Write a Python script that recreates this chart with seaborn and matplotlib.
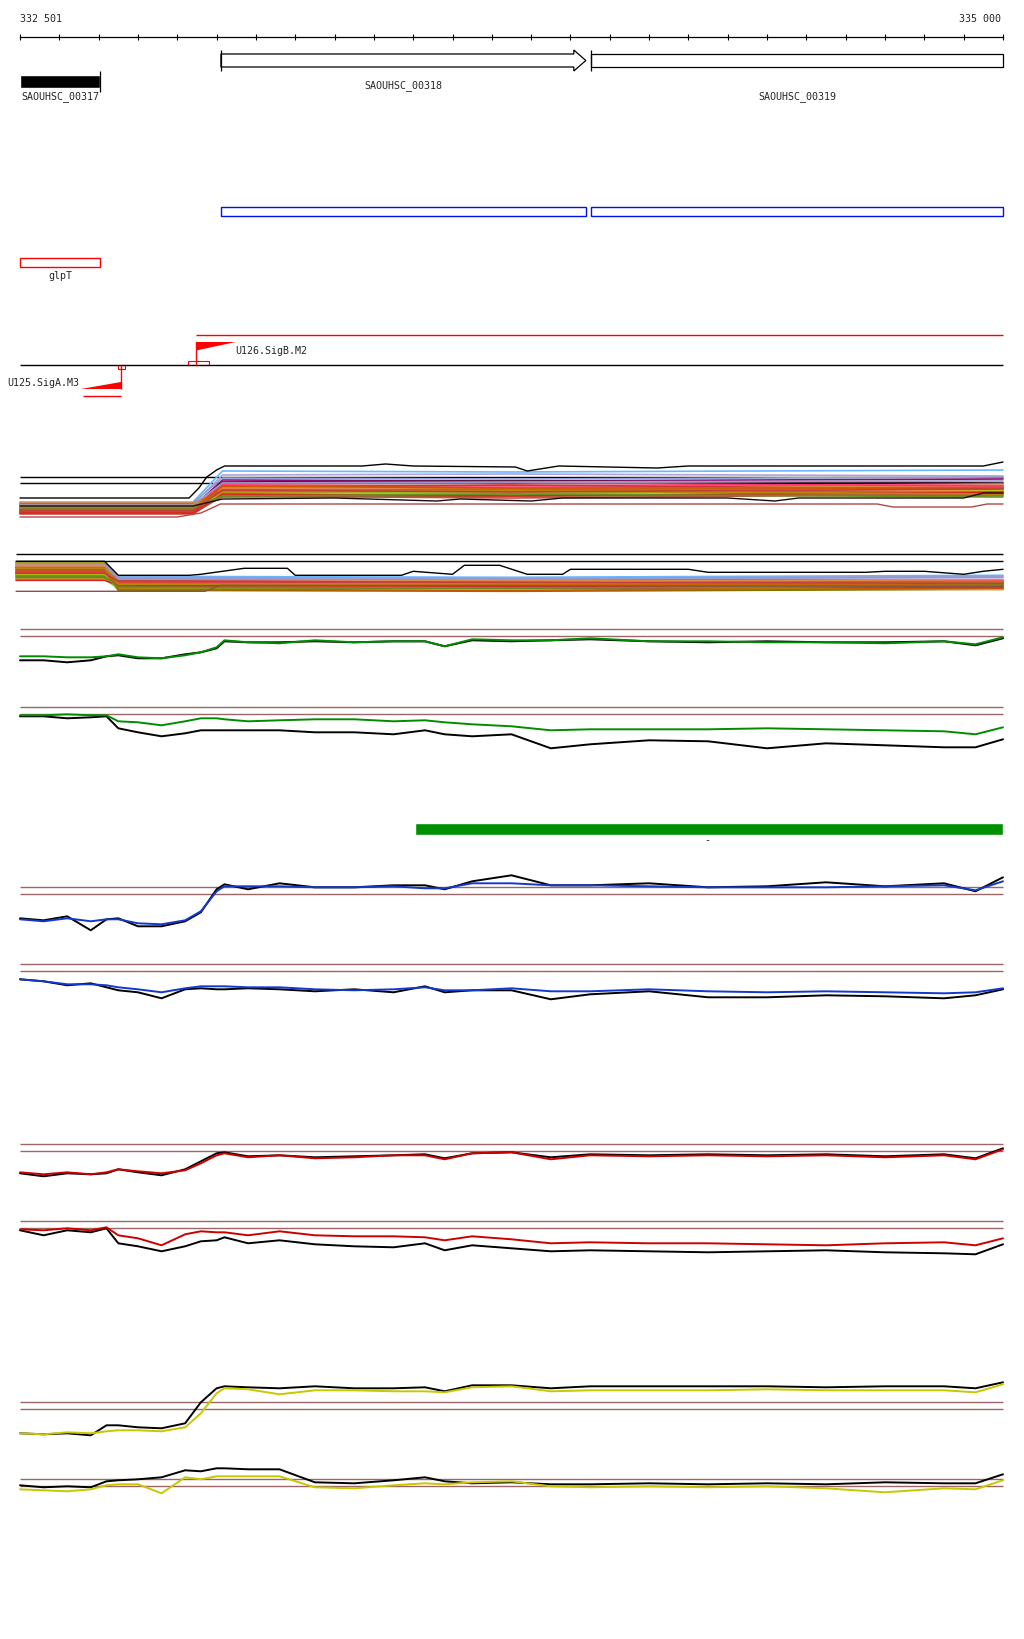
import numpy as np
import pandas as pd
import matplotlib
matplotlib.use('Agg')
import matplotlib.pyplot as plt
from matplotlib.patches import Polygon, Rectangle
import seaborn as sns

sns.set_theme(style='ticks')
plt.rcParams['font.family'] = ['DejaVu Sans Mono', 'DejaVu Sans']

# ---------------- data ----------------
view_start = 332500
view_end = 335000
ruler_left = '332 501'
ruler_right = '335 000'

gene_names = ['SAOUHSC_00317', 'SAOUHSC_00318', 'SAOUHSC_00319']
gene_starts = [332500, 333011, 333952]
gene_ends = [332703, 333939, 335000]

operon_starts = [333011, 333952]
operon_ends = [333939, 335000]

term_name = 'glpT'
term_start = 332500
term_end = 332703

prom_names = ['U126.SigB.M2', 'U125.SigA.M3']
prom_pos = [332948, 332756]
prom_box_starts = [332927, 332749]
prom_box_ends = [332981, 332767]
prom_flag_tips = [333049, 332655]
sigb_line_end = 335000
siga_line_start = 332661

bar_start = 333505
bar_end = 335000
bar_mark = 334248

# signal tracks, shared positions
pos_grid = [332500, 332560, 332620, 332680, 332720, 332750, 332800, 332860, 332920, 332960,
            333000, 333020, 333080, 333160, 333250, 333350, 333450, 333530, 333580, 333650,
            333750, 333850, 333950, 334100, 334250, 334400, 334550, 334700, 334850, 334930, 335000]

green_top = [-2.0, -2.0, -2.1, -2.1, -2.0, -1.8, -2.1, -2.2, -1.9, -1.6, -1.1, -0.4, -0.6, -0.7, -0.4, -0.6,
             -0.5, -0.5, -1.0, -0.3, -0.4, -0.4, -0.2, -0.5, -0.5, -0.6, -0.6, -0.7, -0.5, -0.8, -0.1]
green_top_k = [-2.4, -2.4, -2.6, -2.4, -2.0, -1.9, -2.2, -2.2, -1.8, -1.6, -1.2, -0.5, -0.6, -0.6, -0.5, -0.6,
               -0.5, -0.5, -1.0, -0.4, -0.5, -0.4, -0.3, -0.5, -0.6, -0.5, -0.6, -0.6, -0.5, -0.9, -0.2]
green_bot = [-0.1, -0.1, 0.0, -0.1, -0.1, -0.7, -0.8, -1.1, -0.7, -0.4, -0.4, -0.5, -0.7, -0.6, -0.5, -0.5,
             -0.7, -0.6, -0.8, -1.0, -1.2, -1.6, -1.5, -1.5, -1.5, -1.4, -1.5, -1.6, -1.7, -2.0, -1.3]
green_bot_k = [-0.2, -0.2, -0.4, -0.3, -0.2, -1.4, -1.8, -2.2, -1.9, -1.6, -1.6, -1.6, -1.6, -1.6, -1.8, -1.8,
               -2.0, -1.6, -2.0, -2.2, -2.0, -3.4, -3.0, -2.6, -2.7, -3.4, -2.9, -3.1, -3.3, -3.3, -2.5]

blue_top = [-2.5, -2.7, -2.4, -2.7, -2.5, -2.5, -2.9, -3.0, -2.6, -1.7, 0.3, 0.8, 0.8, 0.8, 0.7, 0.7,
            0.8, 0.6, 0.6, 1.1, 1.1, 0.9, 0.9, 0.8, 0.7, 0.7, 0.7, 0.8, 0.9, 0.4, 1.3]
blue_top_k = [-2.4, -2.6, -2.2, -3.6, -2.5, -2.4, -3.2, -3.2, -2.7, -1.8, 0.5, 1.0, 0.5, 1.1, 0.7, 0.7,
              0.9, 0.9, 0.5, 1.3, 1.9, 0.9, 0.9, 1.1, 0.7, 0.8, 1.2, 0.8, 1.1, 0.3, 1.7]
blue_bot = [-0.8, -1.0, -1.3, -1.3, -1.4, -1.6, -1.8, -2.1, -1.7, -1.5, -1.5, -1.5, -1.6, -1.6, -1.8, -1.9,
            -1.8, -1.6, -1.9, -1.9, -1.7, -2.0, -2.0, -1.8, -2.0, -2.1, -2.0, -2.1, -2.2, -2.1, -1.7]
blue_bot_k = [-0.8, -1.0, -1.4, -1.2, -1.6, -1.9, -2.1, -2.7, -1.8, -1.7, -1.8, -1.8, -1.7, -1.8, -2.0, -1.8,
              -2.1, -1.5, -2.1, -1.9, -1.9, -2.8, -2.3, -2.0, -2.6, -2.6, -2.4, -2.5, -2.7, -2.4, -1.8]

red_top = [-2.1, -2.3, -2.1, -2.3, -2.1, -1.8, -2.0, -2.2, -1.9, -1.2, -0.4, -0.2, -0.6, -0.4, -0.7, -0.6,
           -0.4, -0.4, -0.8, -0.2, -0.1, -0.8, -0.4, -0.5, -0.4, -0.5, -0.4, -0.6, -0.4, -0.8, 0.2]
red_top_k = [-2.2, -2.5, -2.2, -2.3, -2.2, -1.8, -2.1, -2.4, -1.8, -1.0, -0.2, -0.1, -0.5, -0.4, -0.6, -0.5,
             -0.4, -0.3, -0.7, -0.2, -0.1, -0.6, -0.3, -0.4, -0.3, -0.4, -0.3, -0.5, -0.3, -0.7, 0.3]
red_bot = [-0.1, -0.2, 0.0, -0.2, 0.1, -0.7, -1.0, -1.7, -0.6, -0.3, -0.4, -0.4, -0.7, -0.3, -0.7, -0.8,
           -0.8, -0.9, -1.2, -0.8, -1.1, -1.5, -1.4, -1.5, -1.5, -1.6, -1.7, -1.5, -1.4, -1.7, -1.0]
red_bot_k = [-0.2, -0.7, -0.2, -0.4, 0.0, -1.5, -1.8, -2.3, -1.8, -1.3, -1.2, -0.9, -1.5, -1.2, -1.6, -1.8,
             -1.9, -1.5, -2.2, -1.7, -2.0, -2.3, -2.2, -2.3, -2.4, -2.3, -2.2, -2.4, -2.5, -2.6, -1.6]

yellow_top = [-2.4, -2.5, -2.3, -2.4, -2.2, -2.1, -2.1, -2.2, -1.8, -0.4, 1.6, 2.1, 2.0, 1.5, 1.9, 1.9,
              1.8, 1.8, 1.7, 2.2, 2.3, 1.8, 1.9, 1.9, 1.9, 2.0, 1.9, 1.9, 1.9, 1.7, 2.5]
yellow_top_k = [-2.4, -2.5, -2.4, -2.6, -1.6, -1.6, -1.8, -1.9, -1.4, 0.7, 2.1, 2.3, 2.2, 2.1, 2.3, 2.1,
                2.1, 2.2, 1.8, 2.4, 2.4, 2.1, 2.3, 2.3, 2.3, 2.3, 2.2, 2.3, 2.3, 2.1, 2.7]
yellow_bot = [-0.3, -0.4, -0.5, -0.3, 0.1, 0.2, 0.2, -0.7, 0.9, 0.7, 1.0, 1.0, 1.0, 1.0, -0.1, -0.2,
              0.1, 0.3, 0.2, 0.4, 0.5, 0.0, -0.1, 0.0, -0.1, 0.0, -0.2, -0.6, -0.2, -0.3, 0.6]
yellow_bot_k = [0.1, -0.1, 0.0, -0.1, 0.5, 0.6, 0.7, 0.9, 1.6, 1.5, 1.8, 1.8, 1.7, 1.7, 0.4, 0.3,
                0.6, 0.9, 0.5, 0.3, 0.4, 0.2, 0.2, 0.3, 0.2, 0.3, 0.2, 0.4, 0.3, 0.3, 1.2]

# multi-sample tracks (same samples, same colours, two strands)
sample_colors = ['#66b8ff', '#b4a0d4', '#9a0a6e', '#8fa0d8', '#3a1a2a', '#8b8b1a', '#ff8c1a', '#e8453c',
                 '#ff5c8a', '#66ee00', '#c07030', '#d6a070', '#a8a820', '#ff7040', '#cc3333', '#7a7a00',
                 '#ff9966', '#e06020', '#88cc22', '#bb5544', '#dd8844', '#996633', '#ff3366', '#aacc00',
                 '#cc6600', '#9999cc', '#dd2222', '#b8860b', '#cc5500', '#6b8e23', '#c04040']
fwd_left = [-1.9, -2.1, -2.4, -2.0, -2.3, -2.2, -2.5, -2.6, -2.7, -2.6, -2.8, -2.3, -2.9, -2.4, -3.0, -2.7,
            -2.2, -2.9, -2.5, -3.1, -2.0, -2.8, -2.6, -2.4, -2.1, -2.2, -3.0, -2.3, -2.7, -2.5, -2.8]
fwd_right = [1.2, 0.8, 0.3, 0.5, 0.1, -0.3, -0.6, -0.5, -0.2, -0.8, -0.9, -0.4, -1.0, -0.7, -0.4, -1.2,
             -0.9, -0.6, -1.1, -1.3, -0.5, -1.4, -0.1, -1.0, -0.8, 0.0, -1.1, -0.9, -0.3, -1.3, -0.7]
fwd_mid = [1.1, 0.9, 0.2, 0.4, 0.2, -0.4, -0.8, -0.3, -0.4, -1.0, -0.7, -0.6, -1.2, -0.5, -0.2, -1.1,
           -1.0, -0.8, -0.9, -1.5, -0.6, -1.3, 0.0, -1.2, -0.6, 0.1, -1.3, -0.8, -0.5, -1.1, -0.9]
fwd_end = [1.3, 0.7, 0.4, 0.6, 0.0, -0.5, -0.4, -0.7, -0.1, -0.6, -1.1, -0.2, -0.8, -0.9, -0.6, -1.0,
           -0.7, -0.4, -1.3, -1.1, -0.3, -1.2, -0.3, -0.8, -1.0, 0.2, -0.9, -1.1, -0.5, -1.4, -0.6]
fwd_ramp = [332940, 333015]
rev_left = [-0.3, -0.5, -1.1, -0.2, -0.6, -0.1, -0.9, -1.3, -0.7, -1.5, -0.4, -1.0, -0.2, -1.7, -0.8, -1.2,
            -0.5, -1.4, -1.8, -0.9, -0.3, -1.6, -1.1, -1.3, -0.6, -0.4, -1.9, -0.7, -1.0, -1.5, -1.2]
rev_right = [-1.5, -1.7, -1.9, -1.6, -2.0, -2.4, -2.2, -2.3, -2.0, -2.5, -2.6, -2.1, -2.8, -2.2, -2.4, -2.9,
             -2.3, -2.0, -2.7, -2.6, -1.8, -2.5, -2.1, -2.7, -2.2, -1.7, -2.4, -2.3, -2.8, -2.6, -2.0]
rev_mid = [-1.6, -1.8, -1.8, -1.7, -2.2, -2.3, -2.0, -2.5, -2.1, -2.3, -2.7, -2.0, -2.6, -2.4, -2.2, -3.0,
           -2.4, -2.1, -2.5, -2.7, -1.9, -2.6, -2.2, -2.5, -2.3, -1.8, -2.5, -2.2, -2.9, -2.7, -2.1]
rev_end = [-1.4, -1.8, -2.0, -1.5, -2.1, -2.2, -2.4, -2.1, -1.9, -2.6, -2.4, -2.3, -2.7, -2.0, -2.5, -2.8,
           -2.1, -2.2, -2.6, -2.8, -1.9, -2.3, -2.0, -2.8, -2.4, -1.6, -2.6, -2.1, -2.7, -2.4, -2.2]
rev_ramp = [332715, 332750]
rev_start = 332490
mid_pos = 333750

fwd_top_pos = [332500, 332930, 332955, 332975, 333000, 333020, 333370, 333430, 333500, 333760, 333790,
               333870, 334120, 334200, 334950, 335000]
fwd_top_val = [-1.5, -1.5, -0.5, 0.6, 1.3, 1.7, 1.7, 1.9, 1.7, 1.6, 1.2, 1.7, 1.5, 1.7, 1.7, 2.1]
fwd_dark_pos = [332500, 332940, 333015, 333300, 333560, 333620, 333800, 333880, 334300, 334420, 334480,
                334900, 334950, 335000]
fwd_dark_val = [-2.3, -2.3, -1.6, -1.5, -1.8, -1.6, -1.8, -1.5, -1.5, -1.8, -1.5, -1.5, -1.0, -1.0]
fwd_low_pos = [332500, 332900, 332960, 333010, 334680, 334720, 334920, 334960, 335000]
fwd_low_val = [-3.4, -3.4, -3.0, -2.1, -2.1, -2.4, -2.4, -2.1, -2.1]

rev_top_pos = [332490, 332715, 332750, 332930, 332960, 333070, 333180, 333200, 333470, 333500, 333600,
               333630, 333720, 333790, 333880, 333900, 334200, 334250, 334650, 334700, 334800, 334900,
               334950, 335000]
rev_top_val = [0.0, 0.0, -1.4, -1.4, -1.3, -0.7, -0.7, -1.4, -1.4, -1.0, -1.3, -0.4, -0.4, -1.3, -1.3,
               -0.8, -0.8, -1.1, -1.1, -1.0, -1.0, -1.3, -1.0, -0.8]
rev_low_pos = [332490, 332970, 333010, 335000]
rev_low_val = [-3.0, -3.0, -2.4, -2.5]

# ---------------- style / layout ----------------
BROWN = '#9c6666'
GREEN = '#008c00'
BLUE = '#1238cc'
RED = '#cc0000'
YELLOW = '#c8c800'
FLAG_RED = '#ff0000'
OP_BLUE = '#0010ee'
FS = 7.2

W, H = 1024, 1640
BP_PX = (view_end - view_start) / 983.0
XL = (view_start - 20 * BP_PX, view_start + (W - 20) * BP_PX)

fig = plt.figure(figsize=(W / 100, H / 100), dpi=100)


def band(top, bottom):
    ax = fig.add_axes([0, 1 - bottom / H, 1, (bottom - top) / H])
    ax.set_xlim(*XL)
    ax.set_axis_off()
    ax.patch.set_alpha(0)
    return ax


def signal_ax(ref, lo=-4.5, hi=3.0):
    ax = band(ref - hi * 10, ref - lo * 10)
    ax.set_ylim(lo, hi)
    return ax


# ---------------- ruler ----------------
rax = fig.add_axes([0, 1 - 38 / H, 1, 10 / H])
rax.set_xlim(*XL)
rax.patch.set_alpha(0)
for s in ['top', 'left', 'right']:
    rax.spines[s].set_visible(False)
rax.spines['bottom'].set_bounds(view_start, view_end)
rax.spines['bottom'].set_color('black')
rax.spines['bottom'].set_linewidth(0.9)
rax.set_xticks(np.arange(view_start, view_end + 1, 100))
rax.set_yticks([])
rax.tick_params(axis='x', bottom=True, direction='inout', length=5, width=0.8,
                color='black', labelbottom=False)

ann = band(0, H)
ann.set_ylim(H, 0)
ann.text(view_start, 19.5, ruler_left, ha='left', va='center', fontsize=FS)
ann.text(view_end - 2 * BP_PX, 19.5, ruler_right, ha='right', va='center', fontsize=FS)

# ---------------- genes ----------------
ann.barh(82.5, gene_ends[0] - gene_starts[0], left=gene_starts[0], height=13, color='black')
ann.vlines(gene_ends[0], 72, 93, color='black', lw=0.9)

head = 12 * BP_PX
g1s, g1e = gene_starts[1], gene_ends[1]
arrow = [(g1s, 55), (g1e - head, 55), (g1e - head, 51), (g1e, 61.5), (g1e - head, 72),
         (g1e - head, 68), (g1s, 68)]
ann.add_patch(Polygon(arrow, closed=True, fill=False, ec='black', lw=0.9))
ann.vlines(g1s, 51, 72, color='black', lw=0.9)

g2s, g2e = gene_starts[2], gene_ends[2]
ann.add_patch(Rectangle((g2s, 55), g2e - g2s, 13, fill=False, ec='black', lw=0.9))
ann.vlines(g2s, 51, 72, color='black', lw=0.9)

label_rows = [96.7, 85.5, 96.7]
for name, s, e, y in zip(gene_names, gene_starts, gene_ends, label_rows):
    ann.text((s + e) / 2, y, name, ha='center', va='center', fontsize=FS)

# operon boxes
for s, e in zip(operon_starts, operon_ends):
    ann.add_patch(Rectangle((s, 207.5), e - s, 9.5, fill=False, ec=OP_BLUE, lw=1.0))

# terminator / glpT
ann.add_patch(Rectangle((term_start, 258.5), term_end - term_start, 9.5, fill=False, ec=FLAG_RED, lw=1.0))
ann.text((term_start + term_end) / 2, 276, term_name, ha='center', va='center', fontsize=FS)

# ---------------- promoters ----------------
ann.hlines(366, view_start, view_end, color='black', lw=1.0)

# SigB (forward)
ann.hlines(336, prom_pos[0], sigb_line_end, color=FLAG_RED, lw=1.0)
ann.vlines(prom_pos[0], 343, 366, color=FLAG_RED, lw=1.0)
ann.add_patch(Polygon([(prom_pos[0], 343), (prom_flag_tips[0], 343), (prom_pos[0], 351.5)],
                      closed=True, color=FLAG_RED, lw=0))
ann.add_patch(Rectangle((prom_box_starts[0], 362), prom_box_ends[0] - prom_box_starts[0], 4,
                        fill=False, ec=FLAG_RED, lw=0.8))
ann.text(prom_flag_tips[0] - BP_PX, 350.5, prom_names[0], ha='left', va='center', fontsize=FS)

# SigA (reverse)
ann.vlines(prom_pos[1], 366, 390, color=FLAG_RED, lw=1.0)
ann.add_patch(Polygon([(prom_pos[1], 382.5), (prom_pos[1], 390), (prom_flag_tips[1], 390)],
                      closed=True, color=FLAG_RED, lw=0))
ann.add_patch(Rectangle((prom_box_starts[1], 366), prom_box_ends[1] - prom_box_starts[1], 4,
                        fill=False, ec=FLAG_RED, lw=0.8))
ann.hlines(397, siga_line_start, prom_pos[1], color=FLAG_RED, lw=1.0)
ann.text(prom_flag_tips[1] - 2 * BP_PX, 383.5, prom_names[1], ha='right', va='center', fontsize=FS)

# ---------------- green bar ----------------
ann.barh(830, bar_end - bar_start, left=bar_start, height=11.5, color='#009000')
ann.text(bar_mark, 840, '-', ha='center', va='center', fontsize=FS)

# ---------------- multi-sample tracks ----------------
def multi_frame(starts, ramp, end, left, right, mid, last):
    rows = []
    for i in range(len(left)):
        xs = [starts, ramp[0], ramp[1], mid_pos, end]
        ys = [left[i], left[i], right[i], mid[i], last[i]]
        for x, y in zip(xs, ys):
            rows.append({'pos': x, 'val': y, 'sample': 's%02d' % i})
    return pd.DataFrame(rows)


pal = {'s%02d' % i: c for i, c in enumerate(sample_colors)}

axA = signal_ax(484)
axA.hlines([0, 0.57], view_start, view_end, color='black', lw=1.0)
dfA = multi_frame(view_start, fwd_ramp, view_end, fwd_left, fwd_right, fwd_mid, fwd_end)
sns.lineplot(data=dfA, x='pos', y='val', hue='sample', units='sample', estimator=None,
             palette=pal, legend=False, lw=1.2, sort=False, ax=axA)
sns.lineplot(x=fwd_low_pos, y=fwd_low_val, color='#b04848', lw=1.0, ax=axA)
sns.lineplot(x=fwd_dark_pos, y=fwd_dark_val, color='#1a0a10', lw=1.0, ax=axA)
sns.lineplot(x=fwd_top_pos, y=fwd_top_val, color='black', lw=1.0, ax=axA)
axA.set_axis_off()

axB = signal_ax(562.3)
axB.hlines([0, 0.7], rev_start, view_end, color='black', lw=1.0)
dfB = multi_frame(rev_start, rev_ramp, view_end, rev_left, rev_right, rev_mid, rev_end)
sns.lineplot(data=dfB, x='pos', y='val', hue='sample', units='sample', estimator=None,
             palette=pal, legend=False, lw=1.2, sort=False, ax=axB)
sns.lineplot(x=rev_low_pos, y=rev_low_val, color='#8a5050', lw=1.0, ax=axB)
sns.lineplot(x=rev_top_pos, y=rev_top_val, color='black', lw=1.0, ax=axB)
axB.set_axis_off()


# ---------------- paired condition tracks ----------------
def pair_track(ref, color, col_vals, black_vals):
    ax = signal_ax(ref)
    ax.hlines([0, 0.7], view_start, view_end, color=BROWN, lw=1.0)
    df = pd.DataFrame({
        'pos': pos_grid * 2,
        'val': list(black_vals) + list(col_vals),
        'series': ['black'] * len(pos_grid) + ['color'] * len(pos_grid),
    })
    sns.lineplot(data=df, x='pos', y='val', hue='series', units='series', estimator=None,
                 palette={'black': 'black', 'color': color}, legend=False, lw=1.4,
                 sort=False, ax=ax)
    ax.set_axis_off()


pair_track(637.3, GREEN, green_top, green_top_k)
pair_track(715.3, GREEN, green_bot, green_bot_k)
pair_track(895.3, BLUE, blue_top, blue_top_k)
pair_track(972.3, BLUE, blue_bot, blue_bot_k)
pair_track(1152.3, RED, red_top, red_top_k)
pair_track(1229.3, RED, red_bot, red_bot_k)
pair_track(1410.3, YELLOW, yellow_top, yellow_top_k)
pair_track(1487.3, YELLOW, yellow_bot, yellow_bot_k)

fig.savefig('out.png', dpi=100)
